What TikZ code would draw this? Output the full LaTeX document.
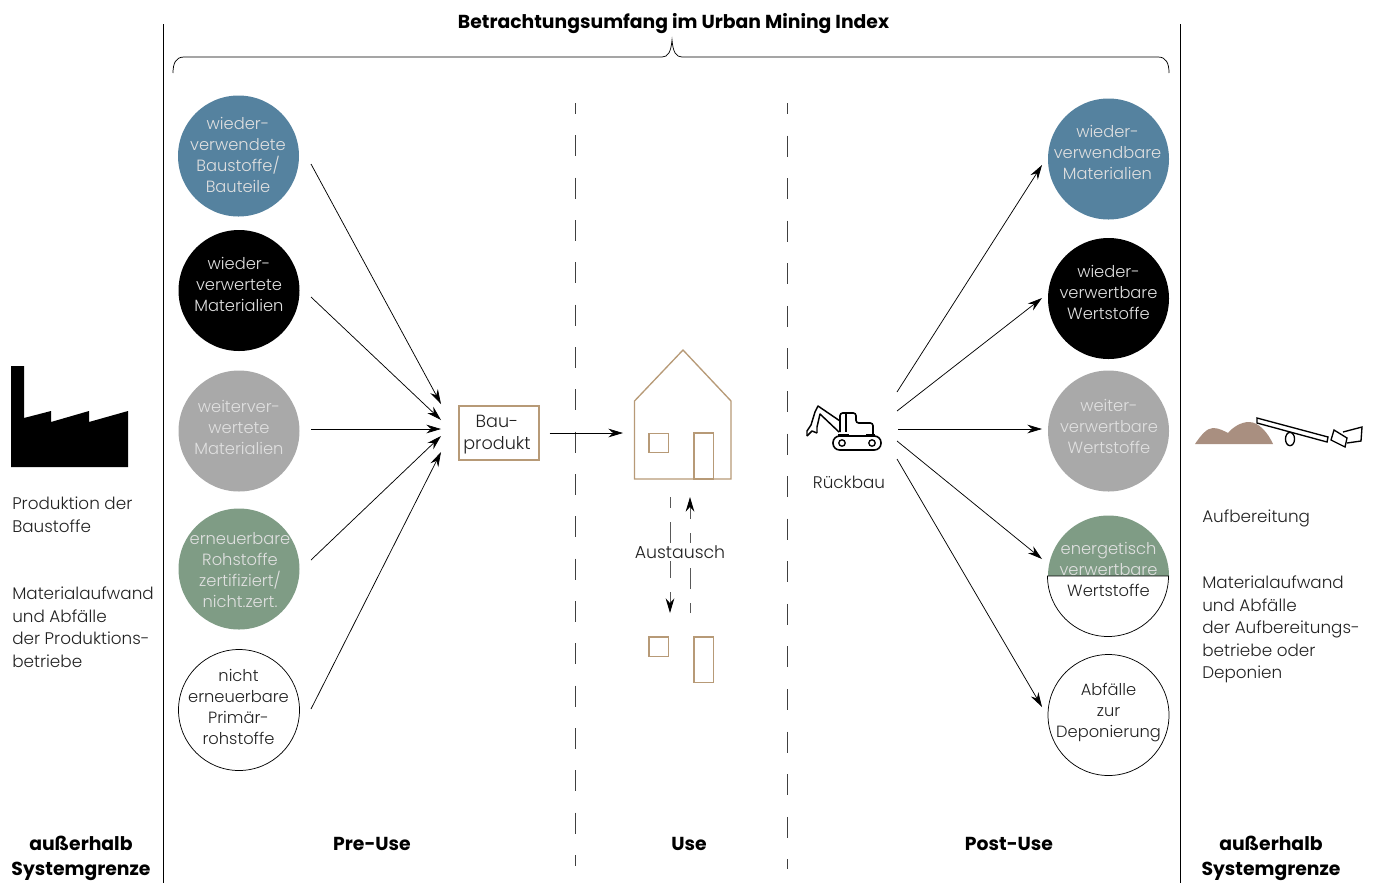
\documentclass[tikz,border=0pt]{standalone}
\usepackage{fontspec}
\setmainfont{Poppins}[UprightFont=* Light,BoldFont=* Bold]
\usetikzlibrary{arrows.meta}
\definecolor{umiblue}{HTML}{55829F}
\definecolor{umigreen}{HTML}{7F9C85}
\definecolor{umigrey}{HTML}{A9A9A9}
\definecolor{umibrown}{HTML}{B79A77}
\definecolor{umipile}{HTML}{A98F80}
\definecolor{umitext}{HTML}{222222}
\begin{document}
\begin{tikzpicture}[x=0.75pt,y=-0.75pt]
      \tikzstyle {disc} = [shape=circle, minimum size=90.75pt, inner sep=0pt];
      \tikzstyle {word} = [text=umitext, inner sep=0pt, align=center, font=\fontsize{12.2}{15.75}\selectfont];
      \tikzstyle {paleword} = [word, text=white!88!black];
      \tikzstyle {plain} = [text=umitext, anchor=north west, inner sep=0pt, align=left, font=\fontsize{12.6}{16.8}\selectfont];
      \tikzstyle {caption} = [align=center, font=\fontsize{14.1}{18.75}\selectfont\bfseries];
      \tikzstyle {flow} = [-{Stealth[length=11pt,width=6.5pt,black]}, line width=0.55pt];
      \tikzstyle {limit} = [line width=0.6pt];
      \tikzstyle {swapflow} = [flow, black!65, line width=0.7pt, dash pattern=on 15.75pt off 10.5pt];
      \tikzstyle {phase} = [line width=0.7pt, black!75, dash phase=7.5pt];
      \tikzstyle {wall} = [draw=umibrown, line width=1pt];
      \useasboundingbox (0,0) rectangle (1377,883);

      \draw [limit] (163,24) -- (163,883);
      \draw [limit] (1180,24) -- (1180,883);
      \draw [phase, dash pattern=on 15.75pt off 16pt] (575,103) -- (575,866);
      \draw [phase, dash pattern=on 15.75pt off 16.180pt] (787,103) -- (787,869);

      \node (scope) at (673.500,24) [font=\fontsize{14.1}{18}\selectfont\bfseries] {Betrachtungsumfang im Urban Mining Index};
      \draw [line width=0.55pt] (173,73) .. controls (173,63) and (176,57) .. (184,57) -- (662,57) .. controls (668,57) and (671,52) .. (672,40) .. controls (673,52) and (676,57) .. (682,57) -- (1158,57) .. controls (1166,57) and (1169,63) .. (1169,73);

      \node (reused) [disc, fill=umiblue] at (238.500,156) {};
      \node (recycled) [disc, fill=black] at (239,290.500) {};
      \node (further) [disc, fill=umigrey] at (239,431) {};
      \node (renew) [disc, fill=umigreen] at (239,569) {};
      \node (primary) [disc, draw=black, line width=0.55pt] at (239,710) {};
      \node (reusedtext) [paleword] at (238,154.500) {wieder-\\verwendete\\Baustoffe/\\Bauteile};
      \node (recycledtext) [paleword] at (239,284) {wieder-\\verwertete\\Materialien};
      \node (furthertext) [paleword] at (239,427.500) {weiterver-\\wertete\\Materialien};
      \node (renewtext) [paleword] at (240,570.500) {erneuerbare\\Rohstoffe\\zertifiziert/\\nicht.zert.};
      \node (primarytext) [word] at (238.500,707) {nicht\\erneuerbare\\Primär-\\rohstoffe};

      \node (reusable) [disc, fill=umiblue] at (1108.500,159) {};
      \node (recyclable) [disc, fill=black] at (1108.500,298.500) {};
      \node (furtherable) [disc, fill=umigrey] at (1108.500,431) {};
      \node (landfill) [disc, draw=black, line width=0.55pt] at (1108.500,715) {};
      \node (reusabletext) [paleword] at (1107.500,152) {wieder-\\verwendbare\\Materialien};
      \node (recyclabletext) [paleword] at (1108.500,292.500) {wieder-\\verwertbare\\Wertstoffe};
      \node (furtherabletext) [paleword] at (1109,426) {weiter-\\verwertbare\\Wertstoffe};
      \node (landfilltext) [word] at (1108.500,713) {Abfälle\\zur\\Deponierung};

      \fill [umigreen] (1048,576) arc (180:360:60.500) -- cycle;
      \node (energy) [paleword] at (1108.500,558.500) {energetisch\\verwertbare};
      \draw [fill=white, line width=0.55pt] (1047.500,576) arc (180:0:60.500) -- cycle;
      \node (energyrest) [word] at (1108.500,590) {Wertstoffe};

      \node (product) [wall, minimum width=60pt, minimum height=40.500pt, inner sep=0pt, line width=0.9pt] at (499,433) {};
      \node (producttext) [word, font=\fontsize{13.2}{16.5}\selectfont] at (497,435) {Bau-\\produkt};

      \coordinate (inA) at (441,404);
      \coordinate (inB) at (441,420);
      \coordinate (inC) at (441,429);
      \coordinate (inD) at (441,436);
      \coordinate (inE) at (441,452);
      \draw [flow] (311,164) -- (inA);
      \draw [flow] (311,297) -- (inB);
      \draw [flow] (311,429) -- (inC);
      \draw [flow] (311,560) -- (inD);
      \draw [flow] (311,709) -- (inE);

      \draw [wall] (634.500,401) -- (683,350) -- (731,401) -- (731,479) -- (634.500,479) -- cycle;
      \node (window) [wall, minimum size=14.500pt, inner sep=0pt] at (658.500,443) {};
      \node (door) [wall, minimum width=14.500pt, minimum height=34.500pt, inner sep=0pt] at (703.500,456) {};
      \node (newwindow) [wall, minimum size=14.500pt, inner sep=0pt] at (658.500,646.500) {};
      \node (newdoor) [wall, minimum width=14.500pt, minimum height=34pt, inner sep=0pt] at (703.500,659.500) {};
      \coordinate (house) at (623,433);
      \draw [flow] (product.east) ++(10,0) -- (house);

      \coordinate (downtop) at (670,497);
      \coordinate (downend) at (670,613);
      \coordinate (upstart) at (690,613);
      \coordinate (upend) at (690,497);
      \draw [swapflow, dash phase=7.5pt] (downtop) -- (downend);
      \draw [swapflow, dash phase=8.25pt] (upstart) -- (upend);
      \node (swap) [word, fill=white, inner ysep=2pt, font=\fontsize{13}{15.75}\selectfont] at (680,552) {Austausch};

      \draw [line width=1.2pt, rounded corners=2pt] (840,432) -- (840,413) -- (856,413) -- (856,423) -- (873,423) -- (873,435);
      \draw [line width=0.8pt] (846,414) -- (846,432);
      \draw [line width=1.1pt, line join=round] (840,421) -- (818,406) -- (815,412) -- (811,425) -- (807,431) -- (807,436);
      \draw [line width=1.1pt, line join=round] (839,432) -- (820,414) -- (817,427) -- (817,433);
      \draw [line width=1.1pt, line join=round] (807,436) -- (812,431) -- (817,433);
      \draw [line width=1.2pt, rounded corners=5pt] (833,436) rectangle (881,450);
      \draw [line width=1.2pt] (838,435) -- (849,435);
      \draw [line width=1.2pt] (866,435) -- (875,435);
      \draw [line width=1pt] (842,443) circle [radius=2.400pt];
      \draw [line width=1pt] (872,443) circle [radius=2.400pt];
      \node (demolition) [word, font=\fontsize{12.6}{15.75}\selectfont] at (849,482) {Rückbau};

      \coordinate (outA) at (1042,165);
      \coordinate (outB) at (1042,298);
      \coordinate (outC) at (1042,429);
      \coordinate (outD) at (1042,559);
      \coordinate (outE) at (1042,707);
      \draw [flow] (897,392) -- (outA);
      \draw [flow] (897,411) -- (outB);
      \draw [flow] (898,429) -- (outC);
      \draw [flow] (897,441) -- (outD);
      \draw [flow] (897,459) -- (outE);

      \fill (11,366) -- (24,366) -- (24,418) -- (51,411) -- (51,422) -- (89,411) -- (89,422) -- (128,411) -- (128,467) -- (11,467) -- cycle;
      \node (production) [plain] at (12,497) {Produktion der\\Baustoffe};
      \node (wasteleft) [plain] at (12,587) {Materialaufwand\\und Abfälle\\der Produktions-\\betriebe};

      \fill [umipile] (1195,444) .. controls (1201,435) and (1207,428) .. (1213,428) .. controls (1219,428) and (1224,431) .. (1228,433) .. controls (1233,427) and (1241,422) .. (1249,422) .. controls (1259,422) and (1268,433) .. (1273,444) -- cycle;
      \draw [line width=1pt] (1257,418) -- (1328,437) -- (1327,442) -- (1257,423) -- cycle;
      \draw [line width=1pt] (1290,439) ellipse [x radius=3.400pt, y radius=5pt];
      \draw [line width=1pt] (1334,430) -- (1347,438) -- (1345,447) -- (1331,440) -- cycle;
      \draw [line width=1pt] (1343,432) -- (1362,427) -- (1361,441) -- (1347,443);
      \node (treatment) [plain] at (1202,510) {Aufbereitung};
      \node (wasteright) [plain] at (1202,576) {Materialaufwand\\und Abfälle\\der Aufbereitungs-\\betriebe oder\\Deponien};

      \node (outleft) [caption] at (81,858) {außerhalb\\Systemgrenze};
      \node (preuse) [caption] at (372,844) {Pre-Use};
      \node (use) [caption] at (689,844) {Use};
      \node (postuse) [caption] at (1009,844) {Post-Use};
      \node (outright) [caption] at (1271,858) {außerhalb\\Systemgrenze};
\end{tikzpicture}
\end{document}
